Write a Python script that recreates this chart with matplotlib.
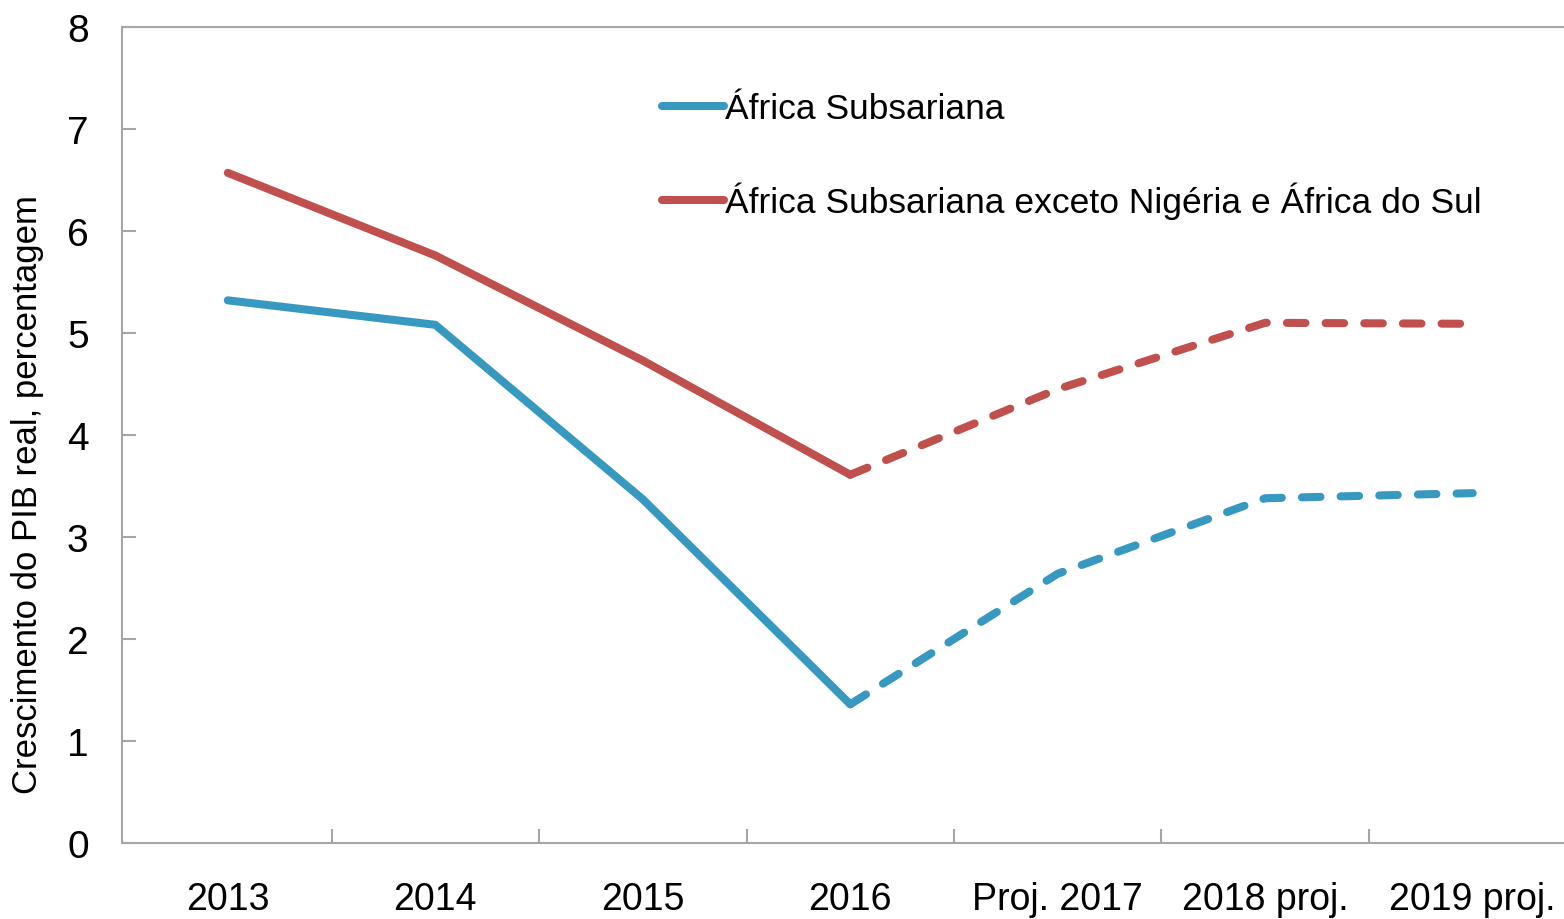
import numpy as np
import matplotlib.pyplot as plt
from matplotlib.lines import Line2D

plt.rcParams['font.family'] = ['Liberation Sans Narrow', 'Liberation Sans', 'DejaVu Sans']

categories = ["2013", "2014", "2015", "2016", "Proj. 2017", "2018 proj.", "2019 proj."]
ssa = [5.32, 5.08, 3.37, 1.36, 2.64, 3.38, 3.43]
ssa_excl = [6.57, 5.76, 4.73, 3.61, 4.45, 5.10, 5.09]
last_actual = 3  # index of 2016, projections start after it

blue = "#3798C0"
red = "#C0504D"
grey = "#A6A6A6"
lw = 5.8

fig = plt.figure(figsize=(15.64, 9.2), dpi=100)
ax = fig.add_axes([0.078, 0.0826, 0.922, 0.887])

x = np.arange(len(categories))
for vals, col in [(ssa, blue), (ssa_excl, red)]:
    ax.plot(x[:last_actual + 1], vals[:last_actual + 1], color=col, lw=lw,
            solid_capstyle="round", solid_joinstyle="round")
    ax.plot(x[last_actual:], vals[last_actual:], color=col, lw=lw,
            dashes=(2.3, 2.5), dash_capstyle="round", dash_joinstyle="round")

ax.set_xlim(-0.51, 6.44)
ax.set_ylim(0, 8)
ax.set_yticks(range(0, 9))
ax.set_xticks(x[:-1] + 0.5)
ax.set_xticklabels([])
ax.set_xticks(x, minor=True)
ax.set_xticklabels(categories, minor=True)
ax.tick_params(axis="x", which="major", direction="in", length=10, width=1.5,
               color=grey)
ax.tick_params(axis="x", which="minor", length=0, pad=27, labelsize=27)
ax.tick_params(axis="y", direction="in", length=10, width=1.5, color=grey,
               pad=24, labelsize=28)

for side in ["left", "bottom", "top"]:
    ax.spines[side].set_color(grey)
    ax.spines[side].set_linewidth(1.5)
ax.spines["right"].set_visible(False)

ax.set_ylabel("Crescimento do PIB real, percentagem", fontsize=25)
ax.yaxis.set_label_coords(-0.054, 0.428)

handles = [Line2D([], [], color=blue, lw=lw, solid_capstyle="round"),
           Line2D([], [], color=red, lw=lw, solid_capstyle="round")]
fig.legend(handles, ["África Subsariana",
                     "África Subsariana exceto Nigéria e África do Sul"],
           loc="upper left", bbox_to_anchor=(0.423, 0.899), frameon=False,
           fontsize=25.5, handlelength=1.75, handletextpad=0.05,
           labelspacing=1.6, borderpad=0, borderaxespad=0)

fig.savefig("out.png", dpi=100)
